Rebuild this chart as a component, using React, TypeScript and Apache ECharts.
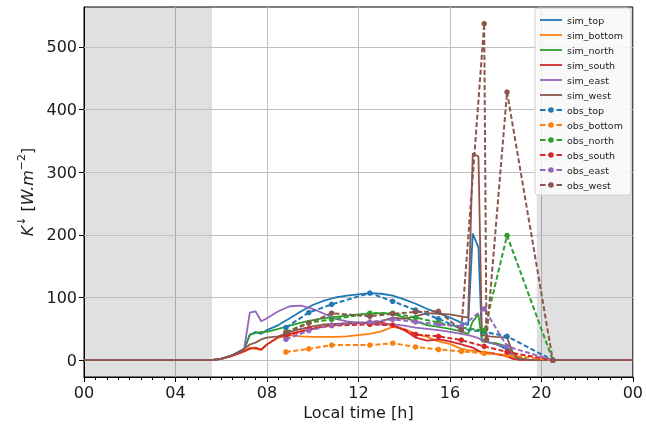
import React, { useEffect, useRef } from "react";
import * as echarts from "echarts";

// ---- data ----
const simTime = [0, 5.5, 5.75, 6, 6.5, 7, 7.25, 7.5, 7.75, 8, 8.5, 9, 9.5, 10, 10.5, 11, 11.5, 12, 12.5, 13, 13.5, 14, 14.5, 15, 15.5, 16, 16.5, 16.8, 17, 17.25, 17.4, 17.75, 18, 18.5, 18.75, 19, 19.5, 24];
const simTop = [0, 0, 1, 2, 8, 17, 40, 45, 42, 48, 56, 67, 78, 88, 95, 100, 103, 105, 107, 106, 103, 97, 90, 82, 75, 68, 60, 56, 202, 180, 33, 28, 26, 17, 5, 1, 0, 0];
const simBottom = [0, 0, 1, 2, 7, 14, 20, 18, 16, 25, 36, 40, 38, 37, 37, 37, 38, 40, 42, 46, 53, 50, 42, 37, 30, 26, 18, 16, 15, 14, 13, 12, 10, 7, 4, 1, 0, 0];
const simNorth = [0, 0, 1, 2, 8, 17, 41, 43, 45, 45, 50, 55, 60, 64, 67, 69, 71, 73, 74, 75, 74, 68, 62, 56, 53, 50, 46, 42, 62, 73, 30, 28, 27, 22, 12, 4, 0, 0];
const simSouth = [0, 0, 1, 2, 7, 14, 18, 20, 17, 25, 37, 42, 46, 50, 54, 56, 58, 59, 60, 60, 56, 48, 36, 31, 33, 30, 25, 22, 20, 15, 12, 11, 10, 6, 2, 1, 0, 0];
const simEast = [0, 0, 1, 2, 8, 17, 76, 78, 62, 67, 78, 86, 87, 82, 74, 66, 62, 60, 58, 57, 57, 55, 52, 50, 48, 45, 42, 40, 38, 35, 32, 28, 25, 21, 8, 2, 0, 0];
const simWest = [0, 0, 1, 2, 8, 18, 25, 28, 33, 36, 38, 45, 50, 54, 57, 58, 59, 60, 60, 62, 68, 66, 70, 75, 74, 73, 70, 68, 330, 325, 40, 38, 37, 36, 12, 2, 0, 0];

const obsTime = [8.83, 9.83, 10.83, 12.5, 13.5, 14.5, 15.5, 16.5, 17.5, 18.5, 20.5];
const obsTop = [52, 76, 89, 107, 94, 80, 66, 50, 45, 38, 0];
const obsBottom = [13, 18, 24, 24, 27, 21, 17, 14, 11, 8, 0];
const obsNorth = [45, 60, 65, 75, 75, 68, 60, 52, 47, 199, 0];
const obsSouth = [38, 50, 55, 57, 56, 41, 38, 32, 22, 13, 0];
const obsEast = [33, 47, 56, 61, 65, 61, 57, 54, 82, 22, 0];
const obsWestTime = [8.83, 9.83, 10.83, 12.5, 13.5, 14.5, 15.5, 16.5, 17.5, 17.6, 18.5, 20.5];
const obsWest = [44, 59, 75, 70, 74, 77, 78, 48, 537, 33, 428, 0];

const yTicks = [0, 100, 200, 300, 400, 500];
const night = [[0, 5.6], [19.8, 24]];

const colors = ["#1f77b4", "#ff7f0e", "#2ca02c", "#d62728", "#9467bd", "#8c564b"];
const simNames = ["sim_top", "sim_bottom", "sim_north", "sim_south", "sim_east", "sim_west"];
const obsNames = ["obs_top", "obs_bottom", "obs_north", "obs_south", "obs_east", "obs_west"];

const FONT = "DejaVu Sans";

const SIM_ICON = "path://M0,4.1 L22,4.1 L22,5.9 L0,5.9 Z";
const OBS_ICON =
  "path://M0,4 L5.5,4 L5.5,6 L0,6 Z M8,4 L13.5,4 L13.5,6 L8,6 Z M16.5,4 L22,4 L22,6 L16.5,6 Z " +
  "M13.75,5 A2.75,2.75 0 1 1 8.25,5 A2.75,2.75 0 1 1 13.75,5 Z";

export default function App() {
  const ref = useRef<HTMLDivElement>(null);
  useEffect(() => {
    if (!ref.current) return;
    const chart = echarts.init(ref.current, undefined, { renderer: "svg" });
    const simVals = [simTop, simBottom, simNorth, simSouth, simEast, simWest];
    const obsVals = [obsTop, obsBottom, obsNorth, obsSouth, obsEast, obsWest];
    const obsTimes = [obsTime, obsTime, obsTime, obsTime, obsTime, obsWestTime];

    const series: any[] = [];
    series.push({
      name: "_bg",
      type: "line",
      data: [[0, 0]],
      symbol: "none",
      silent: true,
      lineStyle: { opacity: 0 },
      z: 1,
      markArea: {
        silent: true,
        z: 0,
        itemStyle: { color: "rgba(0,0,0,0.12)" },
        data: night.map(([a, b]) => [{ xAxis: a }, { xAxis: b }]),
      },
      markLine: {
        silent: true,
        z: 1,
        symbol: "none",
        label: { show: false },
        lineStyle: { color: "#c0c0c0", width: 1, type: "solid" },
        data: yTicks.map((v) => ({ yAxis: v })),
      },
    });
    simNames.forEach((n, i) => {
      series.push({
        name: n,
        type: "line",
        symbol: "none",
        data: simTime.map((t, k) => [t, simVals[i][k]]),
        lineStyle: { color: colors[i], width: 1.8 },
        itemStyle: { color: colors[i] },
        z: 2,
      });
    });
    obsNames.forEach((n, i) => {
      series.push({
        name: n,
        type: "line",
        symbol: "circle",
        symbolSize: 5.5,
        showSymbol: true,
        data: obsTimes[i].map((t, k) => [t, obsVals[i][k]]),
        lineStyle: { color: colors[i], width: 2, type: [5, 2.5] },
        itemStyle: { color: colors[i] },
        z: 3,
      });
    });

    chart.setOption({
      animation: false,
      textStyle: { fontFamily: FONT },
      grid: {
        left: 84,
        top: 7,
        width: 550,
        height: 370,
        show: true,
        borderColor: "#000",
        borderWidth: 1,
        backgroundColor: "rgba(0,0,0,0)",
      },
      xAxis: {
        type: "value",
        min: 0,
        max: 24,
        interval: 4,
        name: "Local time [h]",
        nameLocation: "middle",
        nameGap: 27,
        nameTextStyle: { fontSize: 16, color: "#1a1a1a", fontFamily: FONT },
        axisLine: { show: true, onZero: false, lineStyle: { color: "#000", width: 1 } },
        axisTick: { show: true, length: 5, lineStyle: { color: "#000" } },
        minorTick: { show: true, splitNumber: 8, length: 3, lineStyle: { color: "#000" } },
        splitLine: { show: true, lineStyle: { color: "#c0c0c0", width: 1 } },
        minorSplitLine: { show: false },
        axisLabel: {
          fontSize: 16,
          color: "#1a1a1a",
          fontFamily: FONT,
          margin: 7,
          showMinLabel: true,
          showMaxLabel: true,
          formatter: (v: number) => String(v % 24).padStart(2, "0"),
        },
      },
      yAxis: {
        type: "value",
        min: -26.9,
        max: 563.7,
        name: "{i|K}{s|↓}{n| [}{i|W.m}{s|−2}{n|]}",
        nameLocation: "middle",
        nameGap: 36,
        nameRotate: 90,
        nameTextStyle: {
          fontSize: 16,
          color: "#1a1a1a",
          fontFamily: FONT,
          rich: {
            i: { fontSize: 16, fontStyle: "italic", color: "#1a1a1a", fontFamily: FONT, verticalAlign: "bottom", lineHeight: 20 },
            n: { fontSize: 16, color: "#1a1a1a", fontFamily: FONT, verticalAlign: "bottom", lineHeight: 20 },
            s: { fontSize: 11, color: "#1a1a1a", fontFamily: FONT, verticalAlign: "top", lineHeight: 12 },
          },
        },
        axisLine: { show: true, onZero: false, lineStyle: { color: "#000", width: 1 } },
        axisTick: { show: true, length: 5, customValues: yTicks, lineStyle: { color: "#000" } },
        splitLine: { show: false },
        axisLabel: {
          fontSize: 16,
          color: "#1a1a1a",
          fontFamily: FONT,
          margin: 7,
          customValues: yTicks,
        },
      },
      legend: {
        data: [
          ...simNames.map((n) => ({ name: n, icon: SIM_ICON })),
          ...obsNames.map((n) => ({ name: n, icon: OBS_ICON })),
        ],
        orient: "vertical",
        left: 535,
        top: 8,
        itemWidth: 22,
        itemHeight: 10,
        itemGap: 5,
        symbolKeepAspect: true,
        itemStyle: { borderWidth: 0 },
        padding: [7, 8, 5, 5],
        backgroundColor: "rgba(255,255,255,0.8)",
        borderColor: "#d0d0d0",
        borderWidth: 1,
        borderRadius: 3,
        textStyle: { fontSize: 9.5, color: "#1a1a1a", fontFamily: FONT, lineHeight: 10 },
      },
      series,
    });
    return () => chart.dispose();
  }, []);
  return <div ref={ref} style={{ position: "fixed", left: 0, top: 0, width: 646, height: 429 }} />;
}
